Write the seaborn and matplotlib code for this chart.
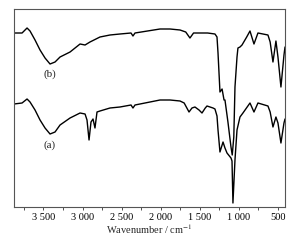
"""
红外光谱图 - 两条曲线 (a)(b)
"""

import numpy as np
import pandas as pd
import matplotlib
matplotlib.use('Agg')
import matplotlib.pyplot as plt
from matplotlib.ticker import MultipleLocator, FuncFormatter
import seaborn as sns

# 波数 (cm-1) 与透过率 (任意单位)
wn_b = [3877, 3774, 3710, 3672, 3608, 3544, 3480, 3416, 3352, 3288, 3160, 3032,
        2968, 2905, 2777, 2649, 2521, 2380, 2355, 2329, 2009, 1881, 1753, 1680,
        1626, 1580, 1536, 1400, 1306, 1280, 1267, 1242, 1215, 1190, 1178, 1140,
        1101, 1085, 1065, 1050, 1024, 1012, 986, 960, 900, 858, 807, 756, 628,
        600, 564, 526, 500, 462, 423, 410]
t_b = [174, 174, 179, 176, 167, 157, 149, 143, 145, 150, 155, 163,
       162, 165, 170, 172, 173, 174, 171, 174, 178, 178, 177, 175,
       169, 174, 174, 174, 173, 170, 154, 115, 118, 107, 107, 85,
       60, 52, 70, 120, 150, 159, 160, 162, 170, 176, 163, 174, 172,
       165, 145, 166, 150, 120, 152, 160]

wn_a = [3877, 3774, 3710, 3672, 3608, 3544, 3480, 3416, 3352, 3288, 3160, 3032,
        2968, 2943, 2917, 2892, 2866, 2841, 2815, 2777, 2649, 2521, 2380, 2355,
        2329, 2009, 1881, 1753, 1700, 1638, 1600, 1562, 1510, 1472, 1430, 1408,
        1331, 1306, 1280, 1267, 1242, 1203, 1178, 1152, 1101, 1088, 1076, 1050,
        1024, 986, 948, 858, 807, 756, 628, 600, 564, 526, 500, 462, 423, 410]
t_a = [103, 104, 108, 105, 97, 87, 79, 73, 75, 82, 89, 94,
       93, 87, 67, 85, 88, 79, 95, 96, 99, 100, 102, 99,
       102, 107, 107, 106, 104, 95, 99, 100, 97, 94, 99, 101,
       99, 98, 91, 77, 55, 65, 59, 54, 49, 46, 4, 47,
       77, 90, 94, 104, 95, 104, 101, 95, 80, 90, 84, 64, 84, 88]

curve_names = ['(a)', '(b)']
label_pos = [(3416, 62), (3416, 133)]


def fmt_tick(v, pos):
    v = int(round(v))
    if v >= 1000:
        return f'{v // 1000} {v % 1000:03d}'
    return str(v)


def main():
    sns.set_theme(style='white')
    plt.rcParams['font.family'] = ['Liberation Serif', 'DejaVu Serif']
    plt.rcParams['mathtext.fontset'] = 'stix'

    df = pd.concat([
        pd.DataFrame({'wn': wn_a, 't': t_a, 'curve': '(a)'}),
        pd.DataFrame({'wn': wn_b, 't': t_b, 'curve': '(b)'}),
    ])

    fig = plt.figure(figsize=(2.96, 2.40), dpi=100)
    ax = fig.add_axes([14 / 296, 1 - 207 / 240, 271 / 296, 198 / 240])

    sns.lineplot(data=df, x='wn', y='t', units='curve', estimator=None,
                 color='black', lw=1.0, sort=True, ax=ax)

    for name, (x, y) in zip(curve_names, label_pos):
        ax.text(x, y, name, ha='center', va='center', fontsize=8)

    ax.set_xlim(3877, 410)
    ax.set_ylim(0, 198)
    ax.xaxis.set_major_locator(MultipleLocator(500))
    ax.xaxis.set_minor_locator(MultipleLocator(250))
    ax.xaxis.set_major_formatter(FuncFormatter(fmt_tick))
    ax.set_yticks([])
    ax.tick_params(axis='x', which='both', direction='out', length=2.5,
                   width=0.6, colors='#333333', labelcolor='black',
                   labelsize=7.5, pad=2, bottom=True)
    ax.set_xlabel(r'Wavenumber / cm$^{-1}$', fontsize=7.5, labelpad=0)
    ax.set_ylabel('')
    for s in ax.spines.values():
        s.set_color('#555555')
        s.set_linewidth(0.8)

    fig.savefig('out.png', dpi=100)


if __name__ == "__main__":
    main()
